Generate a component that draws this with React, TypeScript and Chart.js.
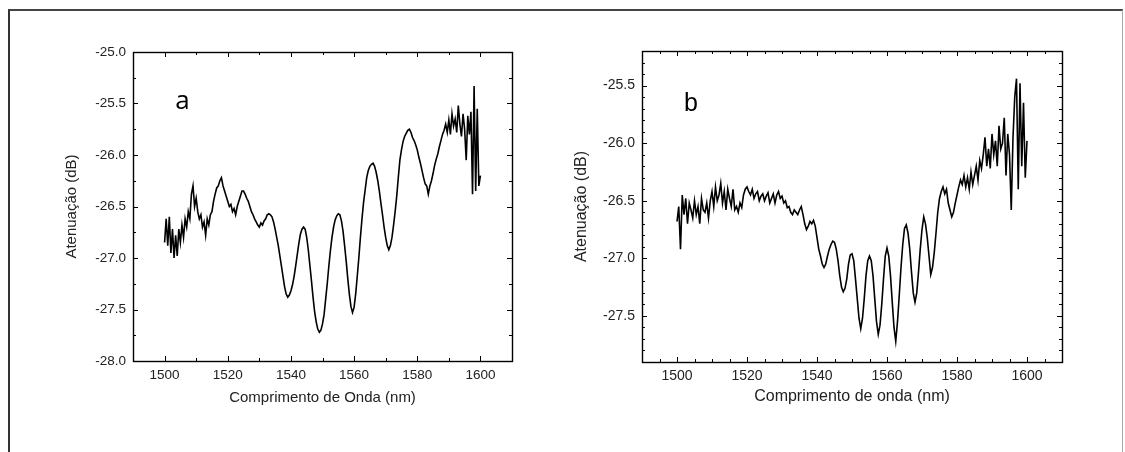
import React, { useEffect, useRef } from 'react';
import { Chart, registerables } from 'chart.js';

Chart.register(...registerables);

// Wavelength sampling (nm)
const NM_START = 1500;
const NM_STEP = 0.5;

const X_TICKS = [1500, 1520, 1540, 1560, 1580, 1600];
const Y_TICKS_A = [-28.0, -27.5, -27.0, -26.5, -26.0, -25.5, -25.0];
const Y_TICKS_B = [-27.5, -27.0, -26.5, -26.0, -25.5];

const X_TITLE_A = 'Comprimento de Onda (nm)';
const X_TITLE_B = 'Comprimento de onda (nm)';
const Y_TITLE = 'Atenuação (dB)';

// Panel a: attenuation (dB), 1500 → 1600 nm every 0.5 nm
const ATTEN_A = [
  -26.85, -26.62, -26.88, -26.60, -26.95, -26.72, -27.00, -26.78, -26.98, -26.72,
  -26.85, -26.68, -26.80, -26.62, -26.70, -26.55, -26.62, -26.38, -26.30, -26.50,
  -26.42, -26.55, -26.62, -26.58, -26.70, -26.65, -26.78, -26.62, -26.68, -26.58,
  -26.55, -26.45, -26.38, -26.32, -26.30, -26.25, -26.22, -26.30, -26.35, -26.40,
  -26.45, -26.50, -26.48, -26.55, -26.52, -26.58, -26.50, -26.45, -26.40, -26.35,
  -26.35, -26.38, -26.42, -26.45, -26.50, -26.55, -26.58, -26.62, -26.65, -26.68,
  -26.70, -26.66, -26.68, -26.64, -26.62, -26.58, -26.57, -26.58, -26.60, -26.65,
  -26.72, -26.80, -26.88, -26.98, -27.08, -27.18, -27.28, -27.35, -27.38, -27.36,
  -27.32, -27.26, -27.18, -27.08, -26.97, -26.86, -26.77, -26.72, -26.70, -26.72,
  -26.80, -26.92, -27.07, -27.22, -27.38, -27.52, -27.62, -27.69, -27.72, -27.70,
  -27.64, -27.55, -27.40, -27.25, -27.08, -26.93, -26.80, -26.70, -26.63, -26.59,
  -26.57, -26.58, -26.64, -26.74, -26.88, -27.03, -27.20, -27.35, -27.47, -27.53,
  -27.48, -27.35, -27.18, -27.00, -26.80, -26.62, -26.46, -26.34, -26.22, -26.15,
  -26.11, -26.09, -26.08, -26.11, -26.17, -26.25, -26.35, -26.47, -26.58, -26.70,
  -26.80, -26.88, -26.92, -26.88, -26.80, -26.68, -26.55, -26.40, -26.22, -26.05,
  -25.95, -25.87, -25.82, -25.79, -25.76, -25.75, -25.78, -25.83, -25.86, -25.90,
  -25.95, -26.02, -26.08, -26.15, -26.22, -26.28, -26.30, -26.38, -26.30, -26.25,
  -26.18, -26.10, -26.04, -25.99, -25.92, -25.86, -25.80, -25.76, -25.70, -25.78,
  -25.66, -25.80, -25.60, -25.72, -25.65, -25.78, -25.52, -25.70, -25.82, -25.60,
  -25.75, -26.05, -25.62, -25.80, -25.58, -26.38, -25.33, -26.35, -25.55, -26.30,
  -26.20,
];

// Panel b: attenuation (dB), 1500 → 1600 nm every 0.5 nm
const ATTEN_B = [
  -26.68, -26.55, -26.92, -26.45, -26.62, -26.48, -26.70, -26.52, -26.58, -26.65,
  -26.50, -26.62, -26.55, -26.70, -26.48, -26.58, -26.60, -26.52, -26.65, -26.50,
  -26.42, -26.55, -26.38, -26.50, -26.45, -26.35, -26.52, -26.42, -26.58, -26.40,
  -26.48, -26.55, -26.40, -26.58, -26.55, -26.60, -26.52, -26.56, -26.45, -26.40,
  -26.38, -26.42, -26.45, -26.40, -26.48, -26.44, -26.42, -26.50, -26.46, -26.44,
  -26.50, -26.46, -26.43, -26.52, -26.48, -26.44, -26.52, -26.45, -26.42, -26.48,
  -26.46, -26.52, -26.50, -26.56, -26.55, -26.60, -26.62, -26.58, -26.60, -26.62,
  -26.58, -26.55, -26.62, -26.70, -26.75, -26.72, -26.68, -26.70, -26.67, -26.72,
  -26.82, -26.92, -26.98, -27.05, -27.08, -27.05, -26.98, -26.92, -26.88, -26.85,
  -26.86, -26.92, -27.02, -27.15, -27.25, -27.29, -27.26, -27.18, -27.05, -26.97,
  -26.96, -27.02, -27.18, -27.35, -27.52, -27.61, -27.52, -27.35, -27.15, -27.02,
  -26.98, -27.02, -27.15, -27.35, -27.55, -27.66, -27.58, -27.40, -27.18, -26.98,
  -26.91, -26.98, -27.15, -27.38, -27.60, -27.72, -27.55, -27.32, -27.08, -26.88,
  -26.74, -26.71, -26.78, -26.92, -27.12, -27.30, -27.38, -27.30, -27.12, -26.92,
  -26.75, -26.64, -26.70, -26.82, -26.98, -27.14, -27.08, -26.95, -26.78, -26.60,
  -26.48, -26.42, -26.38, -26.44, -26.40, -26.52, -26.58, -26.64, -26.60, -26.52,
  -26.45, -26.38, -26.32, -26.36, -26.28, -26.38, -26.30, -26.40, -26.25, -26.36,
  -26.28, -26.20, -26.32, -26.15, -26.22, -26.10, -25.95, -26.20, -26.05, -26.22,
  -25.92, -26.10, -25.98, -26.20, -25.85, -26.05, -26.00, -25.78, -26.28, -25.92,
  -26.10, -26.58, -25.95, -25.60, -25.44, -26.40, -25.48, -26.20, -25.65, -26.30,
  -25.98,
];

const FONT = "'Liberation Sans', Arial, sans-serif";

type Panel = {
  left: number;
  values: number[];
  yMin: number;
  yMax: number;
  yTicks: number[];
  xMinor: number;
  yMinor: number;
  label: string;
  labelAt: [number, number];
  labelFont: string;
  xTitle: string;
  yWidth: number;
  xHeight: number;
  padTop: number;
  padRight: number;
  tickSize: number;
  titleSize: number;
  yTitlePad: number;
  xTitlePad: number;
  tickPadX: number;
  tickPadY: number;
};

const PANELS: Panel[] = [
  {
    left: 0, values: ATTEN_A, yMin: -28, yMax: -25, yTicks: Y_TICKS_A,
    xMinor: 10, yMinor: 0.25, label: 'a', labelAt: [1505.7, -25.48],
    labelFont: "26px 'Open Sans', sans-serif", xTitle: X_TITLE_A,
    yWidth: 133, xHeight: 91, padTop: 52, padRight: 48,
    tickSize: 13.5, titleSize: 15, yTitlePad: 63, xTitlePad: 45, tickPadX: 6, tickPadY: 7,
  },
  {
    left: 560, values: ATTEN_B, yMin: -27.9, yMax: -25.2, yTicks: Y_TICKS_B,
    xMinor: 5, yMinor: 0.1, label: 'b', labelAt: [1504, -25.66],
    labelFont: `25px ${FONT}`, xTitle: X_TITLE_B,
    yWidth: 82, xHeight: 90, padTop: 51, padRight: 58,
    tickSize: 14, titleSize: 16, yTitlePad: 12, xTitlePad: 46, tickPadX: 6, tickPadY: 7,
  },
];

const minorValues = (min: number, max: number, step: number, majors: number[]) => {
  const out: number[] = [];
  const i0 = Math.ceil(min / step - 1e-6);
  const i1 = Math.floor(max / step + 1e-6);
  for (let i = i0; i <= i1; i++) {
    const v = i * step;
    if (!majors.some((m) => Math.abs(m - v) < 1e-6)) out.push(v);
  }
  return out;
};

const framePlugin = {
  id: 'frameTicks',
  afterDatasetsDraw(chart: any, _args: any, opts: any) {
    const { ctx, chartArea } = chart;
    const { left, right, top, bottom } = chartArea;
    const xs = chart.scales.x;
    const ys = chart.scales.y;
    const xMaj = xs.ticks.map((t: any) => t.value);
    const yMaj = ys.ticks.map((t: any) => t.value);
    const xMin = minorValues(xs.min, xs.max, opts.xMinor, xMaj);
    const yMin = minorValues(ys.min, ys.max, opts.yMinor, yMaj);
    ctx.save();
    ctx.strokeStyle = '#000';
    ctx.lineWidth = 1;
    ctx.beginPath();
    const vx = (vals: number[], len: number) => {
      vals.forEach((v) => {
        const p = Math.round(xs.getPixelForValue(v)) + 0.5;
        ctx.moveTo(p, bottom);
        ctx.lineTo(p, bottom - len);
        ctx.moveTo(p, top);
        ctx.lineTo(p, top + len);
      });
    };
    const vy = (vals: number[], len: number) => {
      vals.forEach((v) => {
        const p = Math.round(ys.getPixelForValue(v)) + 0.5;
        ctx.moveTo(left, p);
        ctx.lineTo(left + len, p);
        ctx.moveTo(right, p);
        ctx.lineTo(right - len, p);
      });
    };
    vx(xMaj, 5);
    vx(xMin, 3);
    vy(yMaj, 5);
    vy(yMin, 3);
    ctx.stroke();
    ctx.lineWidth = 1.4;
    ctx.strokeRect(Math.round(left) + 0.5, Math.round(top) + 0.5, Math.round(right - left), Math.round(bottom - top));
    // panel letter
    ctx.fillStyle = '#000';
    ctx.font = opts.labelFont;
    ctx.textAlign = 'center';
    ctx.textBaseline = 'middle';
    ctx.fillText(opts.label, xs.getPixelForValue(opts.labelAt[0]), ys.getPixelForValue(opts.labelAt[1]));
    ctx.restore();
  },
};

function PanelChart({ panel }: { panel: Panel }) {
  const ref = useRef<HTMLCanvasElement | null>(null);
  useEffect(() => {
    if (!ref.current) return;
    const points = panel.values.map((v, i) => ({ x: NM_START + i * NM_STEP, y: v }));
    const chart = new Chart(ref.current, {
      type: 'line',
      data: {
        datasets: [
          {
            data: points,
            borderColor: '#000',
            borderWidth: 1.6,
            pointRadius: 0,
            tension: 0,
            fill: false,
          },
        ],
      },
      plugins: [framePlugin as any],
      options: {
        animation: false,
        responsive: false,
        events: [],
        layout: { padding: { top: panel.padTop, right: panel.padRight, left: 0, bottom: 0 } },
        plugins: {
          legend: { display: false },
          tooltip: { enabled: false },
          frameTicks: {
            xMinor: panel.xMinor,
            yMinor: panel.yMinor,
            label: panel.label,
            labelAt: panel.labelAt,
            labelFont: panel.labelFont,
          },
        } as any,
        scales: {
          x: {
            type: 'linear',
            min: 1490,
            max: 1610,
            grid: { display: false, drawTicks: false },
            border: { display: false },
            afterBuildTicks: (s: any) => {
              s.ticks = X_TICKS.map((v) => ({ value: v }));
            },
            afterFit: (s: any) => {
              s.height = panel.xHeight;
            },
            ticks: {
              padding: panel.tickPadX,
              color: '#222',
              font: { family: FONT, size: panel.tickSize },
              maxRotation: 0,
              autoSkip: false,
              callback: (v: any) => String(v),
            },
            title: {
              display: true,
              text: panel.xTitle,
              color: '#222',
              font: { family: FONT, size: panel.titleSize },
              padding: { top: 0, bottom: panel.xTitlePad },
            },
          },
          y: {
            type: 'linear',
            min: panel.yMin,
            max: panel.yMax,
            grid: { display: false, drawTicks: false },
            border: { display: false },
            afterBuildTicks: (s: any) => {
              s.ticks = panel.yTicks.map((v) => ({ value: v }));
            },
            afterFit: (s: any) => {
              s.width = panel.yWidth;
            },
            ticks: {
              padding: panel.tickPadY,
              color: '#222',
              font: { family: FONT, size: panel.tickSize },
              autoSkip: false,
              callback: (v: any) => Number(v).toFixed(1),
            },
            title: {
              display: true,
              text: Y_TITLE,
              color: '#222',
              font: { family: FONT, size: panel.titleSize },
              padding: { top: panel.yTitlePad, bottom: 0 },
            },
          },
        },
      },
    });
    return () => chart.destroy();
  }, [panel]);
  return (
    <canvas
      ref={ref}
      width={560}
      height={452}
      style={{ position: 'absolute', left: panel.left, top: 0, width: 560, height: 452 }}
    />
  );
}

export default function App() {
  return (
    <div style={{ position: 'fixed', left: 0, top: 0, width: 1125, height: 452, background: '#fff', overflow: 'hidden' }}>
      <div
        style={{
          position: 'absolute',
          left: 8,
          top: 9,
          width: 1115,
          height: 470,
          boxSizing: 'border-box',
          borderLeft: '2px solid #333',
          borderTop: '2px solid #444',
          borderRight: '1px solid #aaa',
        }}
      />
      {PANELS.map((p) => (
        <PanelChart key={p.label} panel={p} />
      ))}
    </div>
  );
}
